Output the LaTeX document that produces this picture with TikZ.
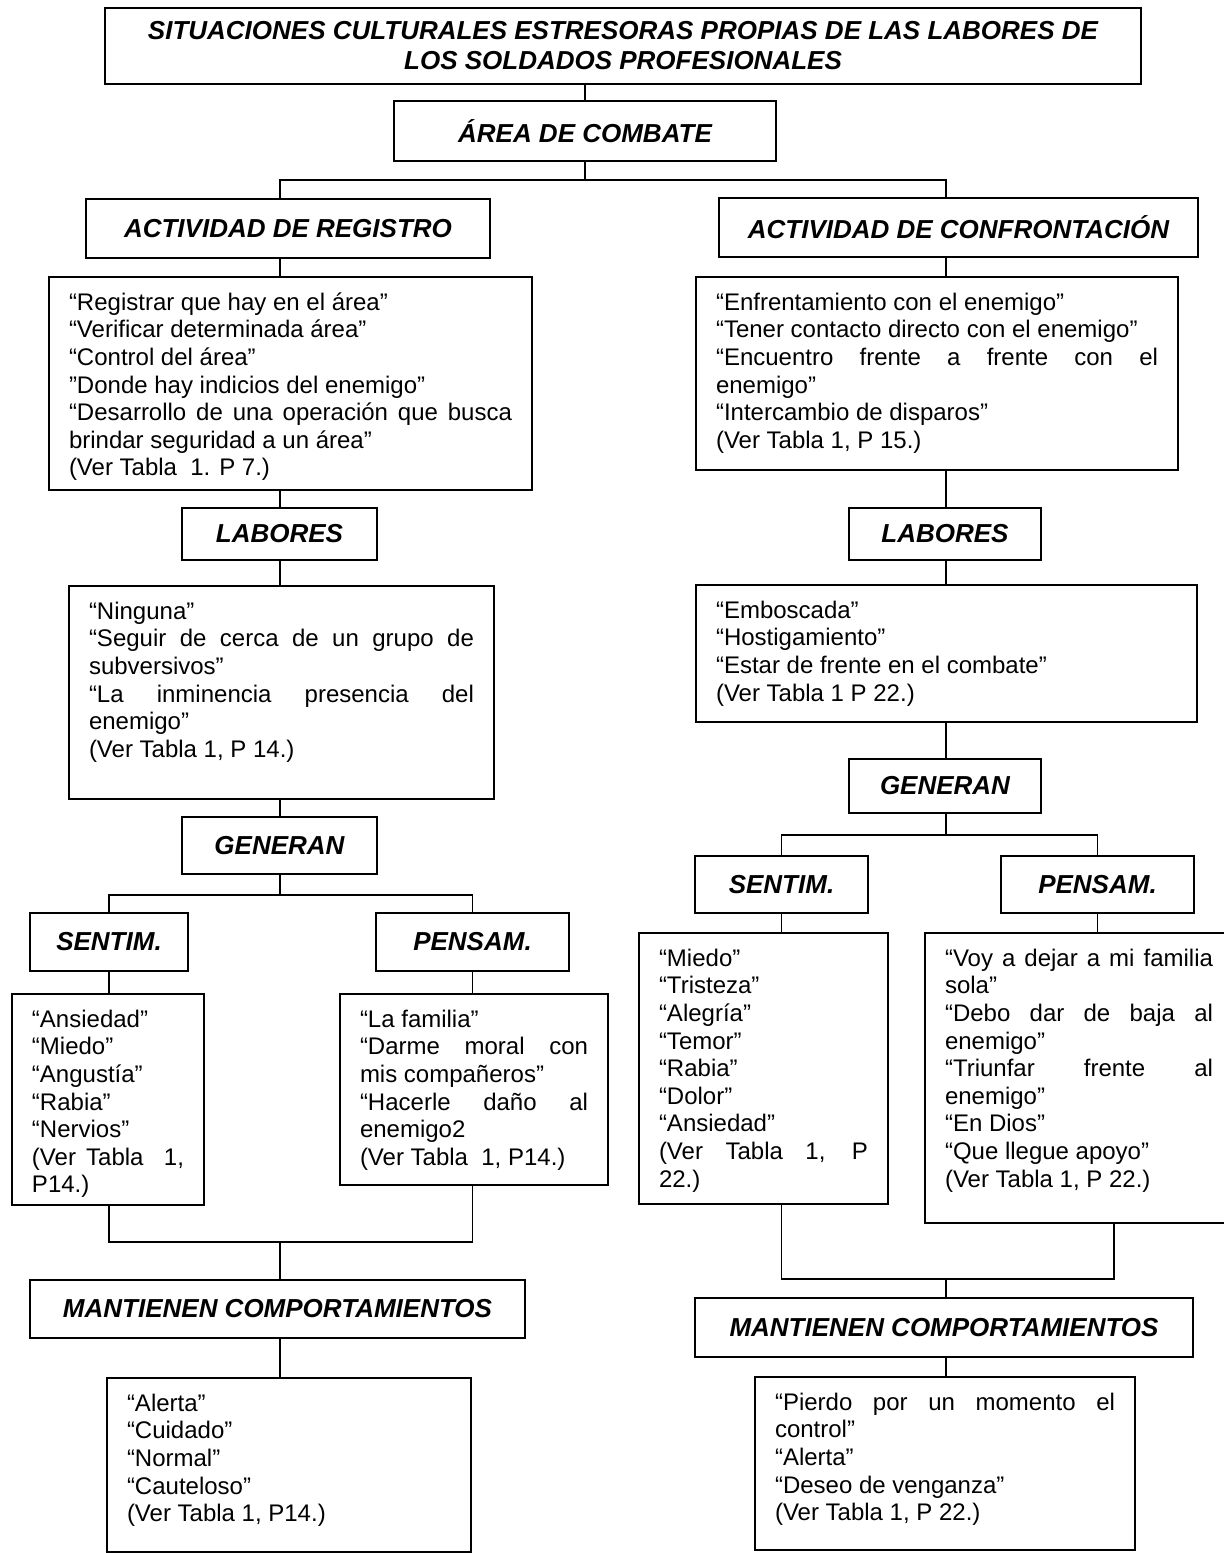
\documentclass[tikz,border=0pt]{standalone}
\usepackage{fontspec}
\setmainfont{Liberation Sans}
\hyphenpenalty=10000
\exhyphenpenalty=10000
\tolerance=10000
\newcommand{\cabfont}{\fontsize{13}{15}\selectfont\bfseries\itshape}
\newcommand{\cuerpo}{\fontsize{12}{13.8}\selectfont}
\newcommand{\bloque}[3]{\parbox[t][#2][t]{#1}{\strut#3}}
\newcommand{\recta}{\symbol{34}}

\tikzset{
  cabecera/.style={draw, line width=1pt, inner sep=0pt, align=center, font=\cabfont},
  lista/.style={draw, line width=1pt, anchor=north west, inner xsep=10pt, inner ysep=7pt, font=\cuerpo},
  enlace/.style={line width=0.9pt}
}

\begin{document}
\begin{tikzpicture}[x=0.5pt,y=-0.5pt]

\useasboundingbox (0,0) rectangle (1224,1553);

% cabeceras
\node[cabecera, minimum width=518pt, minimum height=38pt] (titulo) at (623,46)
  {SITUACIONES CULTURALES ESTRESORAS PROPIAS DE LAS LABORES DE\\LOS SOLDADOS PROFESIONALES};
\node[cabecera, minimum width=191pt, minimum height=30pt] (area) at (585,131) {ÁREA DE COMBATE};
\node[cabecera, minimum width=202pt, minimum height=29.5pt] (reg) at (288,228.5) {ACTIVIDAD DE REGISTRO};
\node[cabecera, minimum width=239.5pt, minimum height=29.5pt] (conf) at (958.5,227.5) {ACTIVIDAD DE CONFRONTACIÓN};

% rama izquierda
\node[lista] (regtxt) at (48,276) {\bloque{221.5pt}{92.5pt}{%
“Registrar que hay en el área”\\
“Verificar determinada área”\\
“Control del área”\\
\recta Donde hay indicios del enemigo\recta\\
“Desarrollo de una operación que busca\linebreak brindar seguridad a un área”\\
(Ver Tabla~~1. P 7.)}};
\node[cabecera, minimum width=97.5pt, minimum height=26pt] (labL) at (279.5,534) {LABORES};
\node[lista] (labLtxt) at (68,585) {\bloque{192.5pt}{92.5pt}{%
“Ninguna”\\
“Seguir de cerca de un grupo de\linebreak subversivos”\\
“La inminencia presencia del\linebreak enemigo”\\
(Ver Tabla 1, P 14.)}};
\node[cabecera, minimum width=97.5pt, minimum height=28.5pt] (genL) at (279.5,845.5) {GENERAN};
\node[cabecera, minimum width=79pt, minimum height=29pt] (senL) at (109,942) {SENTIM.};
\node[cabecera, minimum width=96.5pt, minimum height=29pt] (penL) at (472.5,942) {PENSAM.};
\node[lista] (senLtxt) at (11,993) {\bloque{76pt}{91.5pt}{%
“Ansiedad”\\
“Miedo”\\
“Angustía”\\
“Rabia”\\
“Nervios”\\
(Ver Tabla~~1,\linebreak P14.)}};
\node[lista] (penLtxt) at (339,993) {\bloque{114pt}{81.5pt}{%
“La familia”\\
“Darme moral con\linebreak mis compañeros”\\
“Hacerle daño al\linebreak enemigo2\\
(Ver Tabla~~1, P14.)}};
\node[cabecera, minimum width=247.5pt, minimum height=29pt] (manL) at (277.5,1309) {MANTIENEN COMPORTAMIENTOS};
\node[lista] (finL) at (106,1377) {\bloque{162pt}{73pt}{%
“Alerta”\\
“Cuidado”\\
“Normal”\\
“Cauteloso”\\
(Ver Tabla 1, P14.)}};

% rama derecha
\node[lista] (conftxt) at (695,276) {\bloque{221pt}{82.5pt}{%
“Enfrentamiento con el enemigo”\\
“Tener contacto directo con el enemigo”\\
“Encuentro frente a frente con el\linebreak enemigo”\\
“Intercambio de disparos”\\
(Ver Tabla 1, P 15.)}};
\node[cabecera, minimum width=96pt, minimum height=26pt] (labR) at (945,534) {LABORES};
\node[lista] (labRtxt) at (695,584) {\bloque{230.5pt}{54.5pt}{%
“Emboscada”\\
“Hostigamiento”\\
“Estar de frente en el combate”\\
(Ver Tabla 1 P 22.)}};
\node[cabecera, minimum width=96pt, minimum height=27pt] (genR) at (945,786) {GENERAN};
\node[cabecera, minimum width=86.5pt, minimum height=28.5pt] (senR) at (781.5,884.5) {SENTIM.};
\node[cabecera, minimum width=96.5pt, minimum height=28.5pt] (penR) at (1097.5,884.5) {PENSAM.};
\node[lista] (senRtxt) at (638,932) {\bloque{104.5pt}{121.5pt}{%
“Miedo”\\
“Tristeza”\\
“Alegría”\\
“Temor”\\
“Rabia”\\
“Dolor”\\
“Ansiedad”\\
(Ver Tabla 1, P\linebreak 22.)}};
\node[lista] (penRtxt) at (924,932) {\bloque{134pt}{131pt}{%
“Voy a dejar a mi familia\linebreak sola”\\
“Debo dar de baja al\linebreak enemigo”\\
“Triunfar frente al\linebreak enemigo”\\
“En Dios”\\
“Que llegue apoyo”\\
(Ver Tabla 1, P 22.)}};
\node[cabecera, minimum width=249pt, minimum height=29.5pt] (manR) at (944,1327.5) {MANTIENEN COMPORTAMIENTOS};
\node[lista] (finR) at (754,1376) {\bloque{170pt}{72.5pt}{%
“Pierdo por un momento el\linebreak control”\\
“Alerta”\\
“Deseo de venganza”\\
(Ver Tabla 1, P 22.)}};

% ejes y uniones
\coordinate (ejeI) at (280,0);
\coordinate (ejeD) at (946,0);
\coordinate (ejeP) at (1114,0);
\coordinate (b1) at (585,180);
\coordinate (b2) at (280,895);
\coordinate (b3) at (280,1242);
\coordinate (b4) at (946,835);
\coordinate (b5) at (946,1279);

\draw[enlace] (titulo.south -| area.north) -- (area.north);
\draw[enlace] (area.south) -- (b1);
\draw[enlace] (reg.north -| ejeI) |- (b1) -| (conf.north -| ejeD);

\draw[enlace] (reg.south -| ejeI) -- (regtxt.north -| ejeI);
\draw[enlace] (regtxt.south -| ejeI) -- (labL.north -| ejeI);
\draw[enlace] (labL.south -| ejeI) -- (labLtxt.north -| ejeI);
\draw[enlace] (labLtxt.south -| ejeI) -- (genL.north -| ejeI);
\draw[enlace] (genL.south -| ejeI) -- (b2);
\draw[enlace] (senL.north) |- (b2) -| (penL.north);
\draw[enlace] (senL.south) -- (senLtxt.north -| senL.south);
\draw[enlace] (penL.south) -- (penLtxt.north -| penL.south);
\draw[enlace] (senLtxt.south -| senL.south) |- (b3) -| (penLtxt.south -| penL.south);
\draw[enlace] (b3) -- (manL.north -| b3);
\draw[enlace] (manL.south -| ejeI) -- (finL.north -| ejeI);

\draw[enlace] (conf.south -| ejeD) -- (conftxt.north -| ejeD);
\draw[enlace] (conftxt.south -| ejeD) -- (labR.north -| ejeD);
\draw[enlace] (labR.south -| ejeD) -- (labRtxt.north -| ejeD);
\draw[enlace] (labRtxt.south -| ejeD) -- (genR.north -| ejeD);
\draw[enlace] (genR.south -| ejeD) -- (b4);
\draw[enlace] (senR.north) |- (b4) -| (penR.north);
\draw[enlace] (senR.south) -- (senRtxt.north -| senR.south);
\draw[enlace] (penR.south) -- (penRtxt.north -| penR.south);
\draw[enlace] (senRtxt.south -| senR.south) |- (b5) -| (penRtxt.south -| ejeP);
\draw[enlace] (b5) -- (manR.north -| b5);
\draw[enlace] (manR.south -| ejeD) -- (finR.north -| ejeD);

\end{tikzpicture}
\end{document}
